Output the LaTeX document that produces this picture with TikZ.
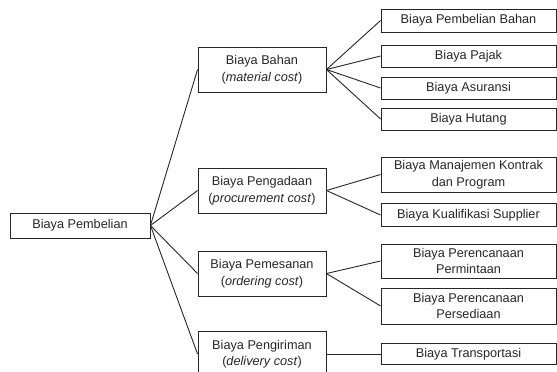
\documentclass[tikz,border=0pt]{standalone}
\usepackage{fontspec}
\setmainfont{Liberation Sans}
\begin{document}
\begin{tikzpicture}[x=1pt,y=-1pt,
  box/.style={draw=black!85, line width=0.9pt, inner sep=0pt, align=center,
    font=\fontsize{12.7}{16.5}\selectfont, text=black!85},
  midbox/.style={box, minimum width=128pt, minimum height=45pt},
  leafbox/.style={box, minimum width=175pt},
  link/.style={draw=black!85, line width=0.9pt}]
\useasboundingbox (0,0) rectangle (557,372);
\node[box, minimum width=140pt, minimum height=25pt] (root) at (80,225.5) {Biaya Pembelian};
\node[midbox] (bahan) at (262,69.5) {Biaya Bahan\\(\textit{material cost})};
\node[midbox] (pengadaan) at (262,190.5) {Biaya Pengadaan\\(\textit{procurement cost})};
\node[midbox] (pemesanan) at (262,273.5) {Biaya Pemesanan\\(\textit{ordering cost})};
\node[midbox] (pengiriman) at (262,354) {Biaya Pengiriman\\(\textit{delivery cost})};
\node[leafbox, minimum height=23pt] (l1) at (468.5,20.5) {Biaya Pembelian Bahan};
\node[leafbox, minimum height=22pt] (l2) at (468.5,56) {Biaya Pajak};
\node[leafbox, minimum height=22pt] (l3) at (468.5,88) {Biaya Asuransi};
\node[leafbox, minimum height=22pt] (l4) at (468.5,119) {Biaya Hutang};
\node[leafbox, minimum height=35pt] (l5) at (468.5,174.5) {Biaya Manajemen Kontrak\\dan Program};
\node[leafbox, minimum height=23pt] (l6) at (468.5,215) {Biaya Kualifikasi Supplier};
\node[leafbox, minimum height=34pt] (l7) at (468.5,261) {Biaya Perencanaan\\Permintaan};
\node[leafbox, minimum height=36pt] (l8) at (468.5,306) {Biaya Perencanaan\\Persediaan};
\node[leafbox, minimum height=21pt] (l9) at (468.5,354) {Biaya Transportasi};
\foreach \m in {bahan,pengadaan,pemesanan,pengiriman}
  \draw[link] (root.east) -- (\m.west);
\foreach \l in {l1,l2,l3,l4}
  \draw[link] (bahan.east) -- (\l.west);
\foreach \l in {l5,l6}
  \draw[link] (pengadaan.east) -- (\l.west);
\foreach \l in {l7,l8}
  \draw[link] (pemesanan.east) -- (\l.west);
\draw[link] (pengiriman.east) -- (l9.west);
\end{tikzpicture}
\end{document}
